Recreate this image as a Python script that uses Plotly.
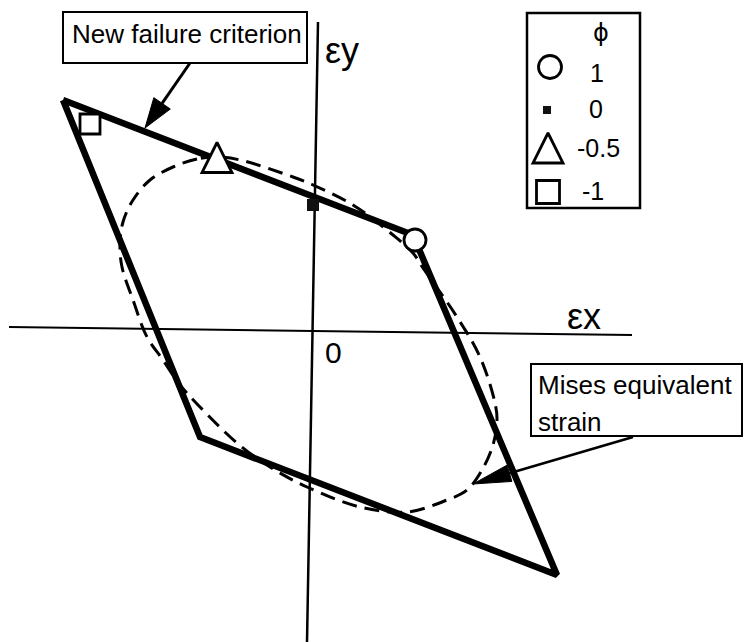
import math
import plotly.graph_objects as go

W, H = 745, 642
ORIGIN_PX = (313, 331)      # pixel position of the strain origin
PX_PER_UNIT = 100.0

# New failure criterion: closed parallelogram in (eps_x, eps_y)
crit_x = [-2.50, 1.00, 2.44, -1.13, -2.50]
crit_y = [2.31, 0.96, -2.44, -1.06, 2.31]

# Mises equivalent strain contour (closed)
mises_x = [-0.96, -1.16, -1.40, -1.63, -1.80, -1.90, -1.93, -1.91, -1.80, -1.66,
           -1.50, -1.33, -1.13, -0.76, -0.43, -0.06, 0.47, 0.94, 1.34, 1.54,
           1.69, 1.80, 1.84, 1.82, 1.67, 1.44, 1.10, 1.00, 0.80, 0.40,
           0.00, -0.20, -0.73, -0.96]
mises_y = [1.74, 1.72, 1.64, 1.51, 1.31, 1.09, 0.86, 0.64, 0.31, -0.06,
           -0.29, -0.54, -0.76, -1.12, -1.36, -1.56, -1.76, -1.81, -1.69, -1.59,
           -1.39, -1.14, -0.89, -0.72, -0.26, 0.14, 0.63, 0.78, 0.96, 1.26,
           1.46, 1.54, 1.71, 1.74]

# States marked for each strain ratio phi
phi_labels = ["1", "0", "-0.5", "-1"]
phi_x = [1.02, 0.00, -0.96, -2.23]
phi_y = [0.91, 1.26, 1.735, 2.07]

# marker look per phi
SYMBOLS = ["circle", "square", "arrow-down", "square"]
SIZES = [22, 12, 30, 20]
FILLS = ["white", "#111111", "white", "white"]
ANGLES = [0, 0, 180, 0]
STANDOFFS = [0, 0, 15, 0]
EDGE_W = [2.8, 0, 2.8, 2.8]

# legend key layout (pixels)
KEY_POS = [(550, 67), (547, 110), (548, 148), (548, 192)]
KEY_SIZES = [23, 8, 30, 23]
KEY_STANDOFF = [0, 0, 15, 0]
KEY_TEXT_POS = [(597, 73), (595.5, 109.5), (598, 148), (592.5, 191)]

FONT = "Liberation Sans, Arial, Helvetica, sans-serif"

x_range = [-ORIGIN_PX[0] / PX_PER_UNIT, (W - ORIGIN_PX[0]) / PX_PER_UNIT]
y_range = [-(H - ORIGIN_PX[1]) / PX_PER_UNIT, ORIGIN_PX[1] / PX_PER_UNIT]


def px(x):
    return x / W


def py(y):
    return 1 - y / H


fig = go.Figure()

fig.add_trace(go.Scatter(
    x=mises_x, y=mises_y, mode="lines",
    line=dict(color="black", width=3, dash="15px,8px", shape="spline", smoothing=1.0),
    hoverinfo="skip", showlegend=False))

fig.add_trace(go.Scatter(
    x=crit_x, y=crit_y, mode="lines",
    line=dict(color="black", width=6.5),
    hoverinfo="skip", showlegend=False))

fig.add_trace(go.Scatter(
    x=phi_x, y=phi_y, mode="markers",
    marker=dict(symbol=SYMBOLS, size=SIZES, color=FILLS, angle=ANGLES,
                standoff=STANDOFFS, opacity=1,
                line=dict(color="black", width=EDGE_W)),
    text=phi_labels, hoverinfo="text", showlegend=False))

# legend keys on a pixel-space overlay axis
fig.add_trace(go.Scatter(
    x=[p[0] for p in KEY_POS], y=[p[1] for p in KEY_POS], mode="markers",
    xaxis="x2", yaxis="y2",
    marker=dict(symbol=SYMBOLS, size=KEY_SIZES, color=FILLS, angle=ANGLES,
                standoff=KEY_STANDOFF, opacity=1,
                line=dict(color="black", width=EDGE_W)),
    hoverinfo="skip", showlegend=False))

shapes = []


def seg(x0, y0, x1, y1, w, layer="above"):
    shapes.append(dict(type="line", xref="paper", yref="paper",
                       x0=px(x0), y0=py(y0), x1=px(x1), y1=py(y1),
                       line=dict(color="black", width=w), layer=layer))


def box(x0, y0, x1, y1, w, fill="white", layer="above"):
    shapes.append(dict(type="rect", xref="paper", yref="paper",
                       x0=px(x0), y0=py(y0), x1=px(x1), y1=py(y1),
                       line=dict(color="black", width=w), fillcolor=fill, layer=layer))


def arrow(tail, tip, head_len, head_w, w):
    dx, dy = tip[0] - tail[0], tip[1] - tail[1]
    d = math.hypot(dx, dy)
    ux, uy = dx / d, dy / d
    bx, by = tip[0] - head_len * ux, tip[1] - head_len * uy
    nx, ny = -uy, ux
    seg(tail[0], tail[1], bx, by, w)
    c1 = (bx + nx * head_w / 2, by + ny * head_w / 2)
    c2 = (bx - nx * head_w / 2, by - ny * head_w / 2)
    path = "M {:.5f},{:.5f} L {:.5f},{:.5f} L {:.5f},{:.5f} Z".format(
        px(tip[0]), py(tip[1]), px(c1[0]), py(c1[1]), px(c2[0]), py(c2[1]))
    shapes.append(dict(type="path", xref="paper", yref="paper", path=path,
                       fillcolor="black", line=dict(color="black", width=1),
                       layer="above"))


# strain axes
seg(9, 327, 632, 335, 2, layer="below")
seg(318, 22, 307, 642, 2.5, layer="below")

# label boxes and legend frame
box(63, 12, 307, 63, 2)
box(531, 364, 742, 436, 2)
box(527, 13, 640, 208, 2.5, fill="rgba(0,0,0,0)", layer="below")

# pointer arrows
arrow((190, 63), (145, 128), 30, 20, 3)
arrow((633, 437), (473, 484), 38, 17, 2.5)

annotations = []


def label(text, x, y, size, xanchor="center", family=FONT):
    annotations.append(dict(text=text, xref="paper", yref="paper",
                            x=px(x), y=py(y), xanchor=xanchor, yanchor="middle",
                            showarrow=False,
                            font=dict(family=family, size=size, color="black")))


label("New failure criterion", 187, 34, 26)
label("Mises equivalent", 536, 385, 26, xanchor="left")
label("strain", 536, 422, 26, xanchor="left")
label("\u03b5y", 342, 50, 36)
label("\u03b5x", 584, 316, 36)
label("0", 333, 352.5, 30)
label("\u03d5", 601, 33, 24, family="DejaVu Sans, Liberation Sans, sans-serif")
for t, (tx, ty) in zip(phi_labels, KEY_TEXT_POS):
    label(t, tx, ty, 25)

fig.update_layout(
    width=W, height=H, autosize=False,
    margin=dict(l=0, r=0, t=0, b=0, pad=0),
    paper_bgcolor="white", plot_bgcolor="white",
    xaxis=dict(range=x_range, visible=False, fixedrange=True),
    yaxis=dict(range=y_range, visible=False, fixedrange=True),
    xaxis2=dict(range=[0, W], overlaying="x", visible=False, fixedrange=True),
    yaxis2=dict(range=[H, 0], overlaying="y", visible=False, fixedrange=True),
    shapes=shapes,
    annotations=annotations,
    showlegend=False,
)

fig.write_html("out.html")
